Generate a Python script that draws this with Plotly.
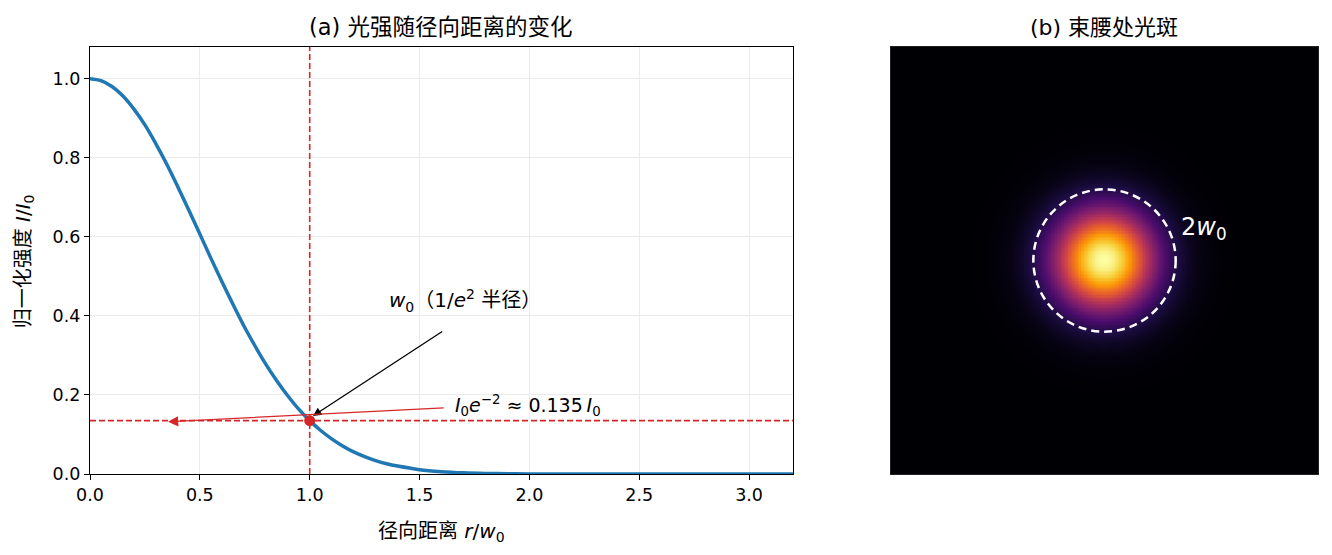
import numpy as np
import plotly.graph_objects as go

# radial profile: r / w0 and normalised intensity I / I0
r_vals = [0.0, 0.05, 0.1, 0.15, 0.2, 0.25, 0.3, 0.35, 0.4, 0.45, 0.5, 0.55, 0.6, 0.65,
          0.7, 0.75, 0.8, 0.85, 0.9, 0.95, 1.0, 1.05, 1.1, 1.15, 1.2, 1.25, 1.3, 1.35,
          1.4, 1.5, 1.6, 1.7, 1.8, 1.9, 2.0, 2.2, 2.4, 2.6, 2.8, 3.0, 3.2, 4.5]
intensity = [1.000, 0.995, 0.980, 0.956, 0.923, 0.883, 0.835, 0.783, 0.726, 0.667, 0.607,
             0.546, 0.487, 0.430, 0.375, 0.325, 0.278, 0.236, 0.198, 0.164, 0.135, 0.110,
             0.089, 0.071, 0.056, 0.044, 0.034, 0.026, 0.020, 0.011, 0.006, 0.003, 0.0015,
             0.0007, 0.0003, 0.0001, 0.0, 0.0, 0.0, 0.0, 0.0, 0.0]

waist_r = 1.0
waist_level = 0.135
x_ticks = [0.0, 0.5, 1.0, 1.5, 2.0, 2.5, 3.0]
y_ticks = [0.0, 0.2, 0.4, 0.6, 0.8, 1.0]

title_a = "(a) 光强随径向距离的变化"
title_b = "(b) 束腰处光斑"

FONT = "DejaVu Sans, Noto Sans CJK SC"
RED = "#d62728"

# spot image on a +-3 w0 grid, looked up from the radial profile table
grid = np.linspace(-3, 3, 301)
gx, gy = np.meshgrid(grid, grid)
spot = np.interp(np.sqrt(gx ** 2 + gy ** 2), r_vals, intensity)

fig = go.Figure()

fig.add_trace(go.Scatter(
    x=r_vals, y=intensity, mode="lines", line=dict(color="#1f77b4", width=3.5, shape="spline"),
    xaxis="x", yaxis="y", showlegend=False, hoverinfo="skip",
))
fig.add_trace(go.Scatter(
    x=[waist_r], y=[waist_level], mode="markers", marker=dict(color=RED, size=11),
    xaxis="x", yaxis="y", showlegend=False,
))
fig.add_trace(go.Heatmap(
    x=grid, y=grid, z=spot, colorscale="Inferno", zmin=0, zmax=1, showscale=False,
    xaxis="x2", yaxis="y2", hoverinfo="skip",
))

# dashed guides at the 1/e^2 radius and level
fig.add_shape(type="line", xref="x", yref="y domain", x0=waist_r, x1=waist_r, y0=0, y1=1,
              line=dict(color=RED, width=1.6, dash="6px,3px"))
fig.add_shape(type="line", xref="x domain", yref="y", x0=0, x1=1, y0=waist_level, y1=waist_level,
              line=dict(color=RED, width=1.6, dash="6px,3px"))
# beam circle of radius w0
fig.add_shape(type="circle", xref="x2", yref="y2", x0=-waist_r, x1=waist_r, y0=-waist_r, y1=waist_r,
              line=dict(color="white", width=2.5, dash="8px,5px"))


def label(text, x, y, size, xref="paper", yref="paper", **kw):
    return dict(text=text, x=x, y=y, xref=xref, yref=yref, showarrow=False,
                xanchor=kw.pop("xanchor", "center"), yanchor="middle",
                font=dict(family=FONT, size=size, color=kw.pop("color", "black")), **kw)


annotations = [
    label(title_a, 0.2862, 1.0468, 22.5),
    label(title_b, 0.8261, 1.0468, 22),
    label("径向距离 <i>r</i>/<i>w</i><sub>0</sub>", 0.2866, -0.1358, 20),
    label("归一化强度 <i>I</i>/<i>I</i><sub>0</sub>", -0.0535, 0.4988, 20, textangle=-90),
    # black arrow to the waist point
    dict(text="", x=1.015, y=0.147, ax=1.61, ay=0.363, xref="x", yref="y", axref="x", ayref="y",
         showarrow=True, arrowhead=2, arrowsize=1.3, arrowwidth=1.3, arrowcolor="black"),
    label("<i>w</i><sub>0</sub>（1/<i>e</i><sup>2</sup> 半径）", 1.353, 0.439, 20,
          xref="x", yref="y", xanchor="left"),
    # red arrow back to the axis level
    dict(text="", x=0.355, y=0.132, ax=1.617, ay=0.1675, xref="x", yref="y", axref="x", ayref="y",
         showarrow=True, arrowhead=2, arrowsize=1.7, arrowwidth=1.2, arrowcolor=RED),
    label("<i>I</i><sub>0</sub><i>e</i><sup>−2</sup> ≈ 0.135\u2009<i>I</i><sub>0</sub>", 1.65, 0.1726, 19,
          xref="x", yref="y", xanchor="left"),
    label("2<i>w</i><sub>0</sub>", 1.05, 0.45, 24, xref="x2", yref="y2", xanchor="left", color="white"),
]

axis_common = dict(showline=True, linecolor="black", linewidth=1.2, mirror=True, ticks="outside",
                   ticklen=5, tickcolor="black", gridcolor="#ebebeb", gridwidth=1, zeroline=False,
                   automargin=False, tickfont=dict(family=FONT, size=17.5, color="black"))

# page body adds an 8px offset, so the figure is 8px smaller and margins shifted
fig.update_layout(
    template="none",
    width=1324, height=547, margin=dict(l=82, r=14, t=39, b=81, pad=0),
    plot_bgcolor="white", paper_bgcolor="white",
    xaxis=dict(domain=[0, 0.5725], range=[0, 3.2], tickvals=x_ticks,
               ticktext=[f"{v:.1f}" for v in x_ticks], anchor="y", **axis_common),
    yaxis=dict(domain=[0, 1], range=[0, 1.08], tickvals=y_ticks,
               ticktext=[f"{v:.1f}" for v in y_ticks], anchor="x", **axis_common),
    xaxis2=dict(domain=[0.6523, 1.0], range=[-3, 3], showticklabels=False, ticks="",
                showgrid=False, zeroline=False, showline=True, linecolor="#222", mirror=True,
                automargin=False, anchor="y2"),
    yaxis2=dict(domain=[0, 1], range=[-3, 3], showticklabels=False, ticks="",
                showgrid=False, zeroline=False, showline=True, linecolor="#222", mirror=True,
                automargin=False, anchor="x2"),
    annotations=annotations,
)

fig.write_html("out.html")
